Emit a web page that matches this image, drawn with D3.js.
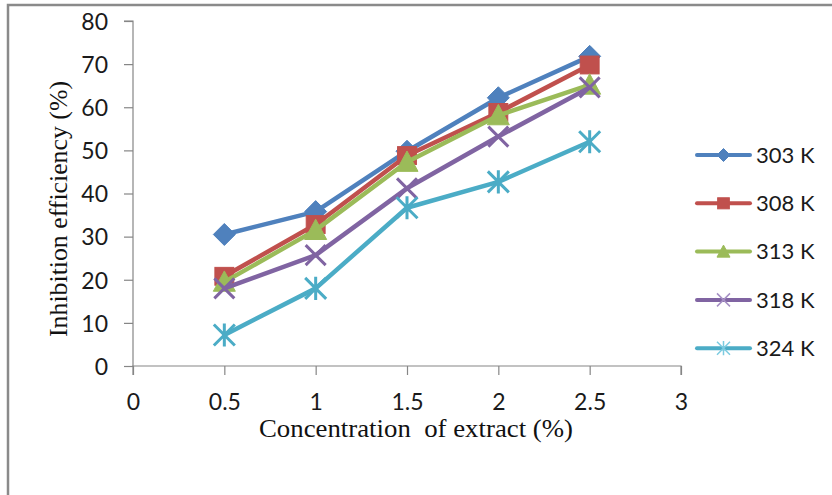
<!DOCTYPE html>
<html><head><meta charset="utf-8">
<script src="https://cdn.jsdelivr.net/npm/d3@7"></script>
<style>body{margin:0;background:#fff;} svg{display:block;}</style>
</head><body>
<script>
const concentrations = [0.5, 1, 1.5, 2, 2.5];
const seriesNames = ["303 K", "308 K", "313 K", "318 K", "324 K"];
const ie303 = [30.5, 35.8, 49.8, 62.2, 71.8];
const ie308 = [20.8, 32.8, 48.8, 58.8, 69.8];
const ie313 = [19.5, 31.5, 47.3, 58.1, 65.2];
const ie318 = [18.0, 25.7, 41.2, 53.2, 64.6];
const ie324 = [7.2, 18.0, 36.7, 42.7, 52.0];
const xTicks = [0, 0.5, 1, 1.5, 2, 2.5, 3];
const yTicks = [0, 10, 20, 30, 40, 50, 60, 70, 80];
const xTitle = "Concentration  of extract (%)";
const yTitle = "Inhibition efficiency (%)";

const seriesValues = [ie303, ie308, ie313, ie318, ie324];
const colors = ["#4F81BD", "#C0504D", "#9BBB59", "#8064A2", "#4BACC6"];
const markerTypes = ["diamond", "square", "triangle", "x", "star"];

const W = 832, H = 495;
const svg = d3.select("body").append("svg").attr("width", W).attr("height", H);

// outer frame (only top and left visible)
svg.append("path").attr("d", `M8,${H + 5} L8,5 L${W + 5},5`)
  .attr("fill", "none").attr("stroke", "#8a8a8a").attr("stroke-width", 2.5);

const x = d3.scaleLinear().domain([0, 3]).range([133, 681]);
const y = d3.scaleLinear().domain([0, 80]).range([366, 21]);

const tickFont = "Lato, 'Open Sans', sans-serif";
const axisColor = "#868686";

const gy = svg.append("g").attr("transform", `translate(${x(0)},0)`)
  .call(d3.axisLeft(y).tickValues(yTicks).tickSize(9).tickPadding(16).tickFormat(d3.format("")));
const gx = svg.append("g").attr("transform", `translate(0,${y(0)})`)
  .call(d3.axisBottom(x).tickValues(xTicks).tickSize(9).tickPadding(0).tickFormat(d3.format("")));
[gx, gy].forEach(g => {
  g.select(".domain").attr("stroke", axisColor).attr("stroke-width", 1.2);
  g.selectAll(".tick line").attr("stroke", axisColor).attr("stroke-width", 1.2);
  g.selectAll("text").attr("font-family", tickFont).attr("font-size", 23).attr("fill", "#1a1a1a");
});
gx.select(".domain").attr("d", `M${x(0)},9V0H${x(3)}V9`);
gy.select(".domain").attr("d", `M-9,${y(80)}H0V${y(0)}`);
gx.selectAll("text").attr("y", 44).attr("dy", 0);
gy.selectAll("text").attr("dy", "0.36em");

// axis titles
svg.append("text").attr("x", 416).attr("y", 437).attr("text-anchor", "middle")
  .attr("font-family", "'Liberation Serif', 'Times New Roman', serif").attr("font-size", 26)
  .attr("xml:space", "preserve").style("white-space", "pre")
  .attr("textLength", 314).attr("lengthAdjust", "spacingAndGlyphs")
  .attr("fill", "#111").text(xTitle);
svg.append("text").attr("transform", "translate(67,209) rotate(-90)").attr("text-anchor", "middle")
  .attr("font-family", "'Liberation Serif', 'Times New Roman', serif").attr("font-size", 26)
  .attr("textLength", 256).attr("lengthAdjust", "spacingAndGlyphs")
  .attr("fill", "#111").text(yTitle);

function drawMarker(g, type, s, color, thin) {
  const sw = thin ? 1.5 : 3;
  if (type === "diamond") {
    g.append("path").attr("d", `M0,${-s}L${s},0L0,${s}L${-s},0Z`).attr("fill", color).attr("stroke", color);
  } else if (type === "square") {
    g.append("rect").attr("x", -s * 0.9).attr("y", -s * 0.85).attr("width", s * 1.8).attr("height", s * 1.7)
      .attr("fill", color).attr("stroke", color);
  } else if (type === "triangle") {
    g.append("path").attr("d", `M0,${-s}L${s},${s * 0.85}L${-s},${s * 0.85}Z`).attr("fill", color).attr("stroke", color);
  } else if (type === "x") {
    g.append("path").attr("d", `M${-s},${-s}L${s},${s}M${s},${-s}L${-s},${s}`)
      .attr("stroke", thin ? "#a58fc4" : color).attr("stroke-width", sw).attr("fill", "none");
  } else if (type === "star") {
    g.append("path").attr("d", `M${-s},${-s}L${s},${s}M${s},${-s}L${-s},${s}M0,${-s * 1.1}L0,${s * 1.1}`)
      .attr("stroke", thin ? "#7ccbe0" : color).attr("stroke-width", sw).attr("fill", "none");
  }
}

const line = d3.line().x(d => x(d[0])).y(d => y(d[1]));
const markerSize = [11, 10.5, 11, 10, 10.5];

seriesValues.forEach((vals, i) => {
  const g = svg.append("g");
  const pts = concentrations.map((c, j) => [c, vals[j]]);
  g.append("path").datum(pts).attr("d", line).attr("fill", "none")
    .attr("stroke", colors[i]).attr("stroke-width", 4.5).attr("stroke-linejoin", "round").attr("stroke-linecap", "round");
  pts.forEach(p => {
    const mg = g.append("g").attr("transform", `translate(${x(p[0])},${y(p[1])})`);
    drawMarker(mg, markerTypes[i], markerSize[i], colors[i], false);
  });
});

// legend
const legend = svg.append("g");
seriesNames.forEach((name, i) => {
  const ly = 155 + i * 48.3;
  const g = legend.append("g").attr("transform", `translate(0,${ly})`);
  g.append("line").attr("x1", 697).attr("x2", 750).attr("y1", 0).attr("y2", 0)
    .attr("stroke", colors[i]).attr("stroke-width", 4).attr("stroke-linecap", "round");
  const mg = g.append("g").attr("transform", "translate(723.5,0)");
  drawMarker(mg, markerTypes[i], 6.5, colors[i], true);
  g.append("text").attr("x", 756).attr("y", 7.8).attr("font-family", tickFont).attr("font-size", 22)
    .attr("fill", "#1a1a1a").text(name);
});
</script>
</body></html>
